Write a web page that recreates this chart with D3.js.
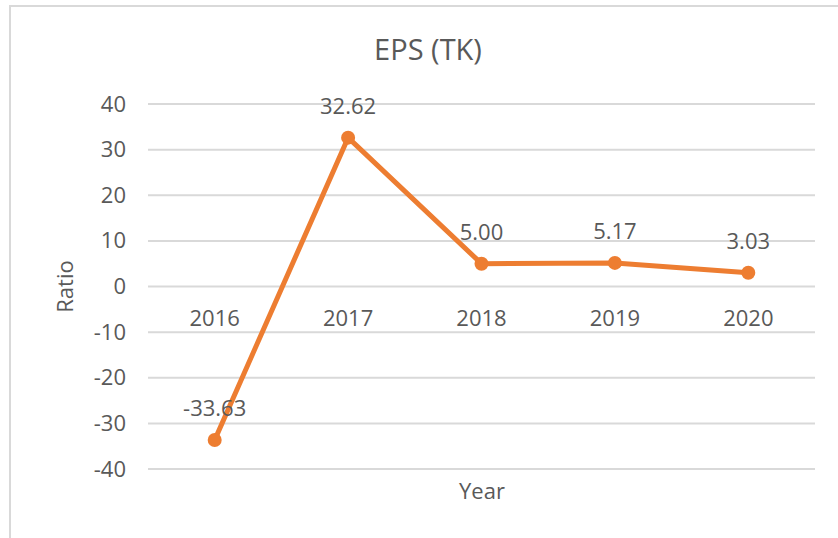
<!DOCTYPE html>
<html>
<head>
<meta charset="utf-8">
<script src="https://cdn.jsdelivr.net/npm/d3@7"></script>
<style>
    body { margin: 0; background: #fff; }
    text { font-family: "Open Sans", "Noto Sans", sans-serif; fill: #595959; }
    .grid line { stroke: #d9d9d9; stroke-width: 2; }
</style>
</head>
<body>
<div id="wrapper"></div>
<script>
// data
const years = ["2016", "2017", "2018", "2019", "2020"]
const eps = [-33.63, 32.62, 5.00, 5.17, 3.03]
const yTicks = [-40, -30, -20, -10, 0, 10, 20, 30, 40]

const width = 838
const height = 538
const margin = { top: 104, right: 23, bottom: 69, left: 148 }
const boundedWidth = width - margin.left - margin.right
const boundedHeight = height - margin.top - margin.bottom

const svg = d3.select("#wrapper")
    .append("svg")
    .attr("width", width)
    .attr("height", height)

// chart area border (top and left visible)
svg.append("path")
    .attr("d", `M10,${height} L10,6 L${width},6`)
    .attr("fill", "none")
    .attr("stroke", "#d9d9d9")
    .attr("stroke-width", 2)

const bounds = svg.append("g")
    .attr("transform", `translate(${margin.left},${margin.top})`)

// scales
const xScale = d3.scaleBand()
    .domain(years)
    .range([0, boundedWidth])

const yScale = d3.scaleLinear()
    .domain([-40, 40])
    .range([boundedHeight, 0])

// gridlines
const grid = bounds.append("g").attr("class", "grid")
grid.selectAll("line")
    .data(yTicks)
    .join("line")
    .attr("x1", 0)
    .attr("x2", boundedWidth)
    .attr("y1", d => yScale(d))
    .attr("y2", d => yScale(d))

// y axis labels (plain hyphen for negatives, like the original)
const yAxis = bounds.append("g")
    .call(d3.axisLeft(yScale)
        .tickValues(yTicks)
        .tickFormat(d => String(d))
        .tickSize(0)
        .tickPadding(22))
yAxis.select(".domain").remove()
yAxis.selectAll("text")
    .style("font-size", "22px")
    .attr("fill", "#595959")

// x axis labels sit below the zero line
const xAxis = bounds.append("g")
    .attr("transform", `translate(0,${yScale(0)})`)
    .call(d3.axisBottom(xScale).tickSize(0).tickPadding(24))
xAxis.select(".domain").remove()
xAxis.selectAll("text")
    .style("font-size", "22px")
    .attr("fill", "#595959")

// line
const xAccessor = (d, i) => xScale(years[i]) + xScale.bandwidth() / 2
const lineGenerator = d3.line()
    .x((d, i) => xAccessor(d, i))
    .y(d => yScale(d))

bounds.append("path")
    .attr("d", lineGenerator(eps))
    .attr("fill", "none")
    .attr("stroke", "#ed7d31")
    .attr("stroke-width", 5)
    .attr("stroke-linejoin", "round")

bounds.selectAll(".dot")
    .data(eps)
    .join("circle")
    .attr("class", "dot")
    .attr("cx", (d, i) => xAccessor(d, i))
    .attr("cy", d => yScale(d))
    .attr("r", 7)
    .attr("fill", "#ed7d31")

bounds.selectAll(".value")
    .data(eps)
    .join("text")
    .attr("class", "value")
    .attr("x", (d, i) => xAccessor(d, i))
    .attr("y", d => yScale(d) - 24)
    .attr("text-anchor", "middle")
    .style("font-size", "22px")
    .text(d => d.toFixed(2))

// titles
svg.append("text")
    .attr("x", 428)
    .attr("y", 60)
    .attr("text-anchor", "middle")
    .style("font-size", "29px")
    .text("EPS (TK)")

svg.append("text")
    .attr("transform", `translate(73,${margin.top + yScale(0)}) rotate(-90)`)
    .attr("text-anchor", "middle")
    .style("font-size", "22px")
    .text("Ratio")

svg.append("text")
    .attr("x", 482)
    .attr("y", 499)
    .attr("text-anchor", "middle")
    .style("font-size", "22px")
    .text("Year")
</script>
</body>
</html>
